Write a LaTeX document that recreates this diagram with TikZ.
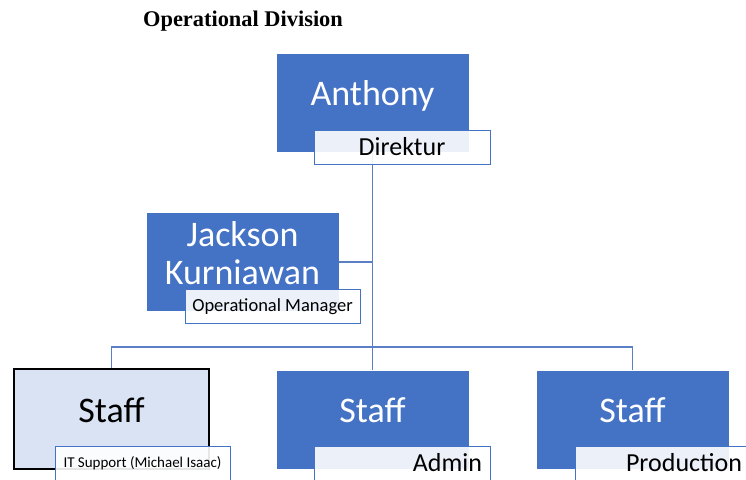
\documentclass[tikz,border=0pt]{standalone}
\usepackage{fontspec}
\setmainfont{Carlito}
\newfontfamily\titlefont{Liberation Serif}
\usetikzlibrary{backgrounds}
\definecolor{orgblue}{HTML}{4472C4}
\definecolor{orgpale}{HTML}{DAE3F3}
\definecolor{orgline}{HTML}{5B7FC7}

\begin{document}
\begin{tikzpicture}[x=1pt, y=-1pt,
  unitbox/.style={fill=orgblue, minimum width=192pt, minimum height=98pt, inner sep=0pt},
  nametext/.style={text=white, align=center, font=\fontsize{36}{38}\selectfont, yshift=9pt},
  rolebox/.style={draw=orgblue, line width=0.8pt, fill=white, fill opacity=0.9, text opacity=1,
    minimum width=176pt, minimum height=34pt, inner sep=0pt,
    font=\fontsize{#1}{#1}\selectfont, text height={0.644*#1pt}, text depth=0pt},
  link/.style={draw=orgline, line width=1.3pt}]
\useasboundingbox (0,0) rectangle (746,479);
\node[font={\titlefont\bfseries\fontsize{22.4}{26}\selectfont}] (title) at (243,21.5) {Operational Division};
% top
\node[unitbox] (anthony) at (372.5,103) {};
\node[nametext, yshift=-2pt] (anthonyname) at (anthony) {Anthony};
\node[rolebox=26] (direktur) at (402,147) {Direktur};
% manager
\node[unitbox] (jackson) at (242.5,262) {};
\node[nametext] (jacksonname) at (jackson) {Jackson\\Kurniawan};
\node[rolebox=18.5, minimum width=175pt] (manager) at (272.5,306) {Operational Manager};
% staff
\node[unitbox, fill=orgpale, draw=black, line width=2pt, minimum width=195pt, minimum height=100pt] (staffit) at (111.5,419) {};
\node[nametext, text=black] (staffitname) at (staffit) {Staff};
\node[rolebox=15, minimum width=175pt] (itsupport) at (142.5,463) {IT Support (Michael Isaac)};
\node[unitbox] (staffadmin) at (372.5,419.5) {};
\node[nametext] (staffadminname) at (staffadmin) {Staff};
\node[rolebox=26, text width=160pt, align=right] (admin) at (402,463) {Admin};
\node[unitbox] (staffprod) at (632.5,419.5) {};
\node[nametext] (staffprodname) at (staffprod) {Staff};
\node[rolebox=26, text width=158pt, align=right] (production) at (663,463) {Production};
\coordinate (bus) at (372.5,347);
\begin{scope}[on background layer]
\draw[link] (anthony.south) -- (staffadmin.north);
\draw[link] (jackson.east) -- (jackson.east -| anthony.south);
\draw[link] (staffit.north) |- (bus) -| (staffprod.north);
\end{scope}
\end{tikzpicture}
\end{document}
